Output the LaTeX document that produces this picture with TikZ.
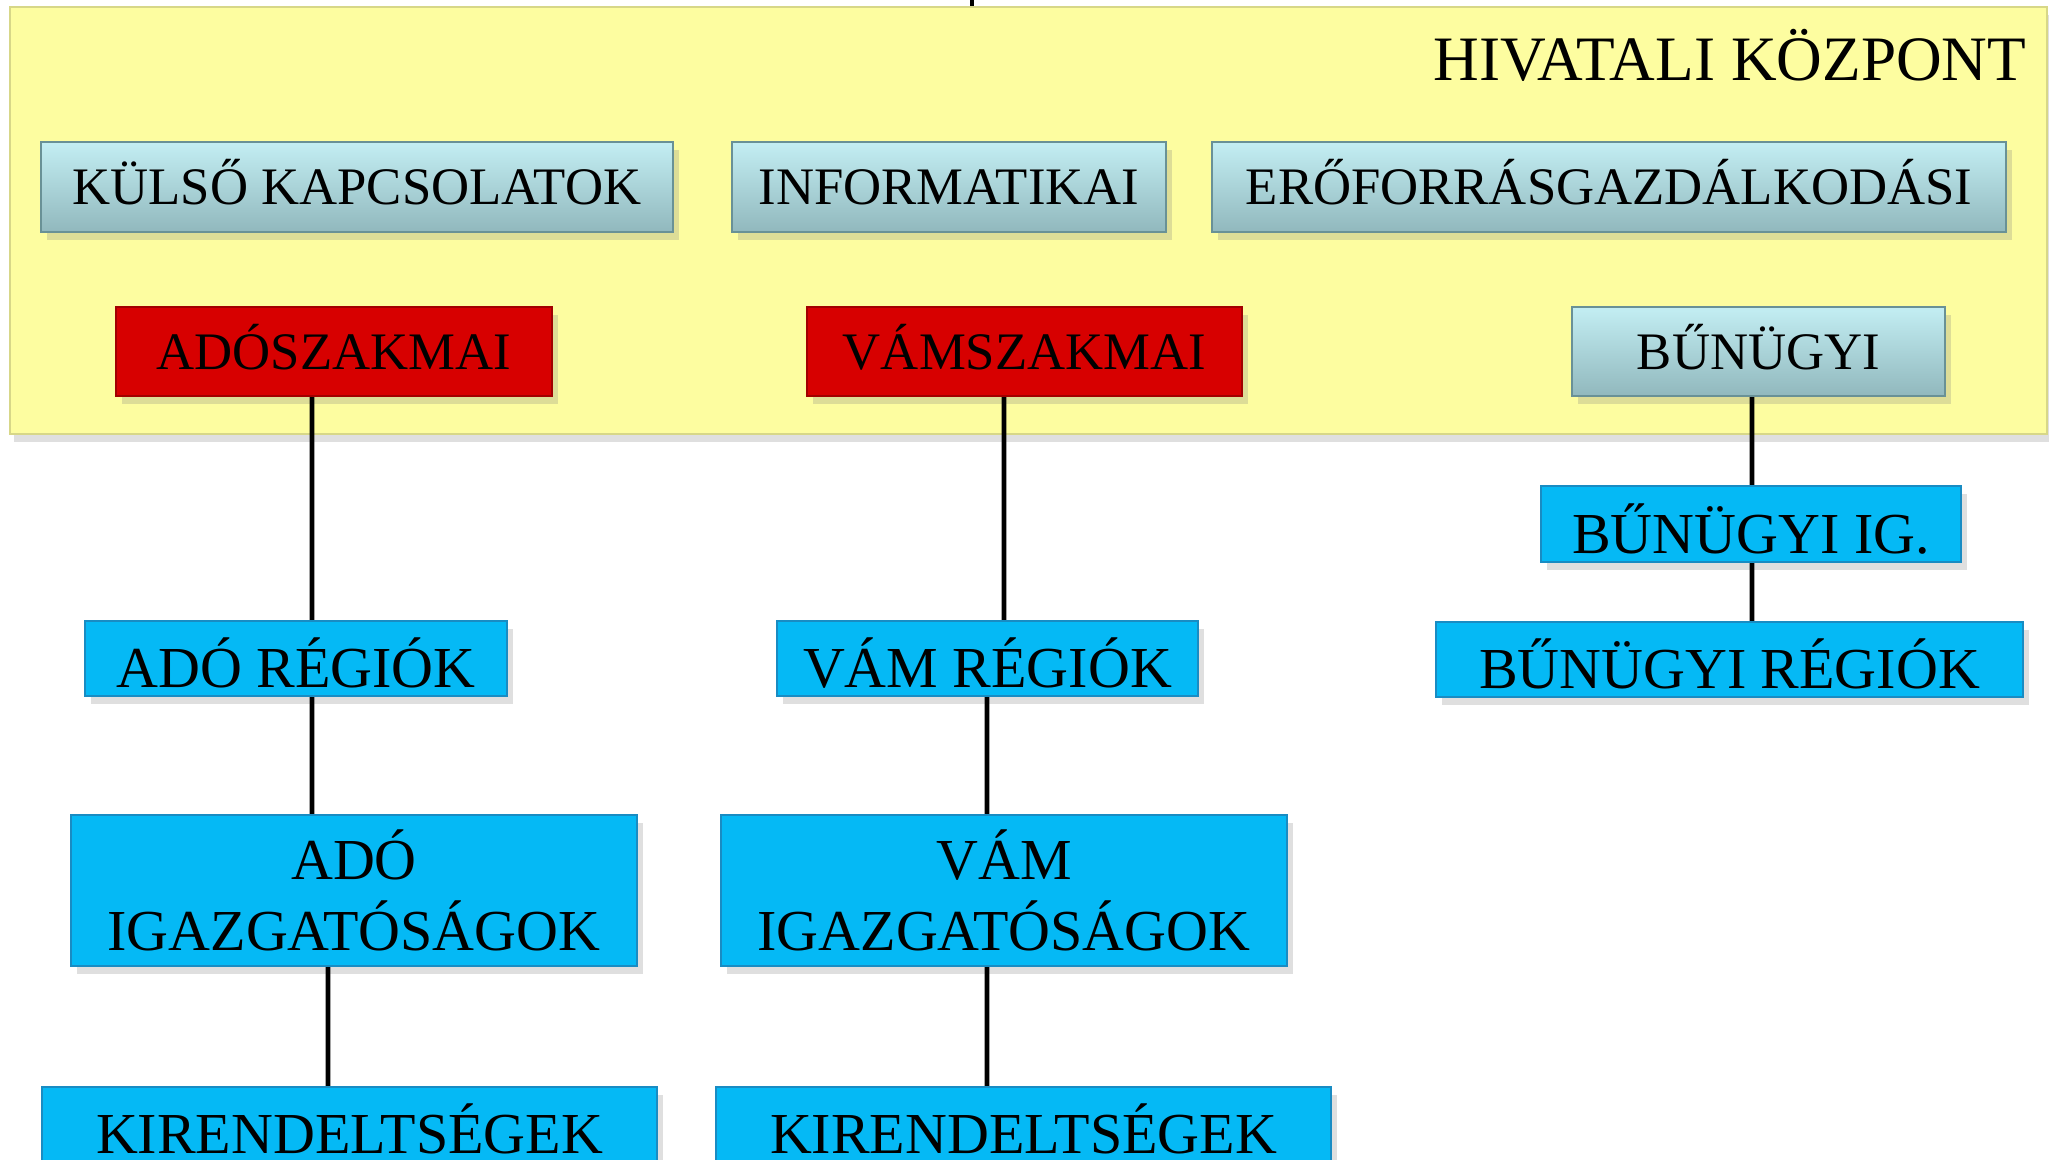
\documentclass[tikz,border=0pt]{standalone}
\usepackage{fontspec}
\setmainfont{Liberation Serif}
\usetikzlibrary{shadows}

\definecolor{sarga}{RGB}{253,253,160}
\definecolor{turkizfel}{RGB}{195,238,243}
\definecolor{turkizle}{RGB}{145,184,189}
\definecolor{turkizel}{RGB}{105,145,150}
\definecolor{piros}{RGB}{215,0,0}
\definecolor{kek}{RGB}{5,185,245}
\definecolor{kekel}{RGB}{25,140,195}

\begin{document}
\begin{tikzpicture}[
    doboz/.style={draw,inner sep=0pt,line width=0.6pt,align=center,
      font=\fontsize{15pt}{20pt}\selectfont,
      drop shadow={shadow xshift=0.6mm,shadow yshift=-0.8mm,opacity=0.25}},
    kozponti/.style={doboz,draw=turkizel,top color=turkizfel,bottom color=turkizle,
      minimum height=0.9cm,text height=10pt,text depth=0pt},
    szakmai/.style={doboz,draw=piros!75!black,fill=piros,
      minimum height=0.89cm,text height=10pt,text depth=0pt},
    teruleti/.style={doboz,draw=kekel,fill=kek,font=\fontsize{16.5pt}{20pt}\selectfont,
      minimum height=0.75cm,text height=16.5pt,text depth=0pt},
    ketsoros/.style={doboz,draw=kekel,fill=kek,font=\fontsize{16.5pt}{20pt}\selectfont,
      minimum height=1.51cm},
    vonal/.style={line width=1.4pt}]
          \useasboundingbox (0,0) rectangle (20.49,-11.59);
          %\draw[very thin,lightgray] (0,-12) grid (21,0);
          \node[fill=sarga,draw=sarga!85!black,minimum width=20.37cm,minimum height=4.27cm,
            drop shadow={shadow xshift=0.4mm,shadow yshift=-0.8mm,opacity=0.25}] (kozpont) at (10.285,-2.205) {};
          \node[anchor=base east,inner sep=0pt,font=\fontsize{18pt}{20pt}\selectfont] (cim) at (20.27,-0.80) {HIVATALI KÖZPONT};
          \node[kozponti,minimum width=6.32cm] (kulso) at (3.57,-1.87) {KÜLSŐ KAPCSOLATOK};
          \node[kozponti,minimum width=4.34cm] (info) at (9.49,-1.87) {INFORMATIKAI};
          \node[kozponti,minimum width=7.94cm] (ero) at (16.09,-1.87) {ERŐFORRÁSGAZDÁLKODÁSI};
          \node[szakmai,minimum width=4.36cm] (adoszak) at (3.34,-3.515) {ADÓSZAKMAI};
          \node[szakmai,minimum width=4.35cm] (vamszak) at (10.245,-3.515) {VÁMSZAKMAI};
          \node[kozponti,minimum width=3.73cm,minimum height=0.89cm] (bun) at (17.585,-3.515) {BŰNÜGYI};
          \node[teruleti,minimum width=4.22cm] (adoreg) at (2.96,-6.585) {ADÓ RÉGIÓK};
          \node[teruleti,minimum width=4.21cm] (vamreg) at (9.875,-6.585) {VÁM RÉGIÓK};
          \node[teruleti,minimum width=4.20cm,minimum height=0.76cm] (bunig) at (17.51,-5.24) {BŰNÜGYI IG.};
          \node[teruleti,minimum width=5.87cm] (bunreg) at (17.295,-6.595) {BŰNÜGYI RÉGIÓK};
          \node[ketsoros,minimum width=5.66cm] (adoig) at (3.54,-8.905) {ADÓ\\IGAZGATÓSÁGOK};
          \node[ketsoros,minimum width=5.66cm] (vamig) at (10.04,-8.905) {VÁM\\IGAZGATÓSÁGOK};
          \node[teruleti,minimum width=6.15cm] (adokir) at (3.495,-11.245) {KIRENDELTSÉGEK};
          \node[teruleti,minimum width=6.15cm] (vamkir) at (10.235,-11.245) {KIRENDELTSÉGEK};
          \coordinate (fent) at (9.72,0);
          \draw[vonal] (fent) -- (fent |- kozpont.north);
          \draw[vonal] ([xshift=-2.2mm]adoszak.south) -- ([xshift=1.6mm]adoreg.north);
          \draw[vonal] ([xshift=1.6mm]adoreg.south) -- ([xshift=-4.2mm]adoig.north);
          \draw[vonal] ([xshift=-2.6mm]adoig.south) -- ([xshift=-2.15mm]adokir.north);
          \draw[vonal] ([xshift=-2.05mm]vamszak.south) -- ([xshift=1.65mm]vamreg.north);
          \draw[vonal] ([xshift=-0.05mm]vamreg.south) -- ([xshift=-1.7mm]vamig.north);
          \draw[vonal] ([xshift=-1.7mm]vamig.south) -- ([xshift=-3.65mm]vamkir.north);
          \draw[vonal] ([xshift=-0.65mm]bun.south) -- ([xshift=0.1mm]bunig.north);
          \draw[vonal] ([xshift=0.1mm]bunig.south) -- ([xshift=2.25mm]bunreg.north);
        \end{tikzpicture}
\end{document}
